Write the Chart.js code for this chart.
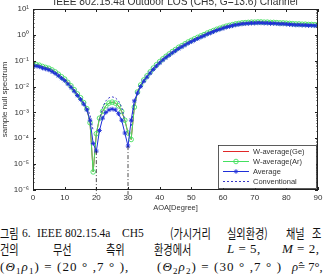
<!DOCTYPE html>
<html>
<head>
<meta charset="utf-8">
<script src="https://cdn.jsdelivr.net/npm/chart.js@4.4.1/dist/chart.umd.min.js"></script>
<style>
  body { margin: 0; background: #fff; width: 328px; height: 280px; overflow: hidden; position: relative; }
  #chartBox { position: absolute; left: 0; top: 0; width: 328px; height: 212px; }
  .cap { position: absolute; font-family: "Liberation Serif", "DejaVu Serif", serif; font-size: 11.5px; line-height: 16px; color: #111; white-space: nowrap; }
  .ko { font-family: "Noto Sans CJK KR", sans-serif; font-size: 13px; transform: scaleX(0.78); transform-origin: 0 0; }
  .math { font-size: 13px; letter-spacing: 0.5px; }
  .wide { letter-spacing: 1.1px; }
  .tight { font-size: 12.5px; letter-spacing: 0; }
  .cap i { font-style: italic; }
  .cap sub { font-size: 9px; vertical-align: -3px; line-height: 0; }
</style>
</head>
<body>
<div id="chartBox"><canvas id="nullChart" width="328" height="212"></canvas></div>

<!-- caption -->
<div class="cap ko" style="left:0;top:225px">그림</div>
<div class="cap" style="left:22px;top:225px">6.</div>
<div class="cap" style="left:37px;top:225px">IEEE</div>
<div class="cap" style="left:65px;top:225px">802.15.4a</div>
<div class="cap" style="left:122px;top:225px">CH5</div>
<div class="cap ko" style="left:170px;top:225px">(가시거리</div>
<div class="cap ko" style="left:227px;top:225px">실외환경)</div>
<div class="cap ko" style="left:286px;top:225px">채널</div>
<div class="cap ko" style="left:312px;top:225px">조</div>

<div class="cap ko" style="left:0;top:241px">건의</div>
<div class="cap ko" style="left:53px;top:241px">무선</div>
<div class="cap ko" style="left:106px;top:241px">측위</div>
<div class="cap ko" style="left:154px;top:241px">환경에서</div>
<div class="cap math" style="left:227px;top:241px"><i>L</i> = 5,</div>
<div class="cap math" style="left:282px;top:241px"><i>M</i> = 2,</div>

<div class="cap math wide" style="left:0;top:259px">(<i>Θ</i><sub>1</sub><i>ρ</i><sub>1</sub>) = (20 ° ,7 ° ),</div>
<div class="cap math wide" style="left:157px;top:259px">(<i>Θ</i><sub>2</sub><i>ρ</i><sub>2</sub>) = (30 ° ,7 ° )</div>
<div class="cap math tight" style="left:292px;top:259px"><i>ρ̂</i>= 7°,</div>

<script>
// AOA grid, one sample per degree
const aoa = Array.from({ length: 91 }, (_, i) => i);

const seriesNames = ['W-average(Ge)', 'W-average(Ar)', 'Average', 'Conventional'];

// sample null spectrum values (log scale)
const wAvgGe = [
  0.072, 0.071, 0.067, 0.060, 0.055, 0.051, 0.044, 0.037, 0.030, 0.024,
  0.0195, 0.0145, 0.0107, 0.0076, 0.0052, 0.0037, 0.0024, 0.0014, 4e-4, 5e-6,
  1.5e-4, 6e-4, 1.1e-3, 1.8e-3, 2.3e-3, 2.5e-3, 2.3e-3, 1.8e-3, 1.1e-3, 5e-4,
  1.6e-4, 9e-5, 1.6e-3, 6.2e-3, 0.0115, 0.018, 0.026, 0.037, 0.052, 0.070,
  0.092, 0.118, 0.148, 0.182, 0.225, 0.27, 0.33, 0.38, 0.45, 0.53,
  0.61, 0.70, 0.80, 0.91, 1.02, 1.17, 1.31, 1.47, 1.64, 1.80,
  1.98, 2.16, 2.32, 2.48, 2.65, 2.77, 2.90, 2.97, 3.03, 3.10,
  3.10, 3.16, 3.16, 3.10, 3.10, 3.03, 3.03, 2.97, 2.90, 2.90,
  2.83, 2.77, 2.70, 2.65, 2.65, 2.58, 2.58, 2.52, 2.52, 2.47, 2.47
];
const wAvgAr = [
  0.072, 0.071, 0.067, 0.060, 0.055, 0.051, 0.044, 0.037, 0.030, 0.024,
  0.0195, 0.0145, 0.0107, 0.0076, 0.0052, 0.0037, 0.0024, 0.0014, 4e-4, 5e-6,
  1.5e-4, 6e-4, 1.1e-3, 1.8e-3, 2.3e-3, 2.5e-3, 2.3e-3, 1.8e-3, 1.1e-3, 5e-4,
  1.6e-4, 9e-5, 1.6e-3, 6.2e-3, 0.0115, 0.018, 0.026, 0.037, 0.052, 0.070,
  0.092, 0.118, 0.148, 0.182, 0.225, 0.27, 0.33, 0.38, 0.45, 0.53,
  0.61, 0.70, 0.80, 0.91, 1.02, 1.17, 1.31, 1.47, 1.64, 1.80,
  1.98, 2.16, 2.32, 2.48, 2.65, 2.77, 2.90, 2.97, 3.03, 3.10,
  3.10, 3.16, 3.16, 3.10, 3.10, 3.03, 3.03, 2.97, 2.90, 2.90,
  2.83, 2.77, 2.70, 2.65, 2.65, 2.58, 2.58, 2.52, 2.52, 2.47, 2.47
];
const average = [
  0.063, 0.062, 0.058, 0.052, 0.048, 0.044, 0.038, 0.032, 0.026, 0.021,
  0.017, 0.0126, 0.0093, 0.0066, 0.0045, 0.0032, 0.0021, 0.00126, 5e-4, 6.3e-5,
  3.2e-5, 2.0e-4, 6.0e-4, 1.0e-3, 1.26e-3, 1.35e-3, 1.26e-3, 8.9e-4, 5.0e-4, 1.6e-4,
  5.0e-5, 5.0e-4, 2.8e-3, 5.6e-3, 0.010, 0.016, 0.023, 0.033, 0.046, 0.062,
  0.081, 0.105, 0.132, 0.162, 0.20, 0.24, 0.29, 0.34, 0.40, 0.47,
  0.54, 0.62, 0.71, 0.81, 0.91, 1.05, 1.17, 1.32, 1.48, 1.62,
  1.78, 1.95, 2.09, 2.24, 2.40, 2.51, 2.63, 2.69, 2.75, 2.82,
  2.82, 2.88, 2.88, 2.82, 2.82, 2.75, 2.75, 2.69, 2.63, 2.63,
  2.57, 2.51, 2.45, 2.40, 2.40, 2.34, 2.34, 2.29, 2.29, 2.24, 2.24
];
// null: below the bottom of the axis (deep nulls at the source angles)
const conventional = [
  0.069, 0.068, 0.064, 0.057, 0.053, 0.048, 0.042, 0.035, 0.029, 0.023,
  0.0187, 0.0139, 0.0102, 0.0073, 0.005, 0.0035, 0.0024, 0.0016, 8e-4, 2e-4,
  null, 5e-4, 1.6e-3, 2.8e-3, 3.7e-3, 4e-3, 3.7e-3, 2.8e-3, 1.6e-3, 5e-4,
  null, 3e-4, 2.2e-3, 6e-3, 0.011, 0.0175, 0.025, 0.036, 0.05, 0.068,
  0.089, 0.115, 0.145, 0.178, 0.22, 0.26, 0.32, 0.37, 0.44, 0.52,
  0.59, 0.68, 0.78, 0.89, 1.0, 1.15, 1.29, 1.45, 1.63, 1.78,
  1.96, 2.14, 2.3, 2.46, 2.64, 2.76, 2.89, 2.96, 3.02, 3.1,
  3.1, 3.17, 3.17, 3.1, 3.1, 3.02, 3.02, 2.96, 2.89, 2.89,
  2.83, 2.76, 2.7, 2.64, 2.64, 2.57, 2.57, 2.52, 2.52, 2.46, 2.46
];

// true source directions, marked with drop lines
const sourceAoa = [20, 30];

const xTicks = [0, 10, 20, 30, 40, 50, 60, 70, 80, 90];
const yTicks = [1e-6, 1e-5, 1e-4, 1e-3, 1e-2, 1e-1, 1, 10];

const FONT = 'Liberation Sans, Arial, sans-serif';
const SUP = { '0': '⁰', '1': '¹', '2': '²', '3': '³', '4': '⁴', '5': '⁵', '6': '⁶', '7': '⁷', '8': '⁸', '9': '⁹', '-': '⁻' };

function pts(arr) {
    return aoa.map((a, i) => ({ x: a, y: arr[i] }));
}

const styles = [
    { color: '#e02828', dash: [], point: false },
    { color: '#44e060', dash: [], point: 'circle' },
    { color: '#1f2fd8', dash: [], point: 'star' },
    { color: '#3838c8', dash: [2, 2], point: false }
];
const seriesData = [wAvgGe, wAvgAr, average, conventional];
const drawOrder = [4, 3, 1, 2];

const datasets = seriesData.map((arr, i) => ({
    label: seriesNames[i],
    data: pts(arr),
    borderColor: styles[i].color,
    backgroundColor: 'rgba(0,0,0,0)',
    borderWidth: 1,
    borderDash: styles[i].dash,
    pointStyle: styles[i].point || 'circle',
    pointRadius: styles[i].point ? 2.3 : 0,
    pointBorderWidth: 0.9,
    pointBorderColor: styles[i].color,
    pointBackgroundColor: 'rgba(0,0,0,0)',
    spanGaps: false,
    order: drawOrder[i]
}));

// dash-dot drop lines at the source angles
sourceAoa.forEach(a => {
    datasets.push({
        label: 'src' + a,
        data: [{ x: a, y: average[a] }, { x: a, y: 5.6e-7 }],
        borderColor: '#222',
        borderWidth: 0.8,
        borderDash: [4, 2, 1, 2],
        pointRadius: 0,
        clip: false,
        order: 0
    });
});

// title, frame, inward ticks, legend
const framePlugin = {
    id: 'framePlugin',
    afterDraw(chart) {
        const { ctx, chartArea: a, scales } = chart;
        ctx.save();
        ctx.fillStyle = '#333';
        ctx.font = '10.2px ' + FONT;
        ctx.textAlign = 'center';
        ctx.textBaseline = 'middle';
        ctx.fillText('IEEE 802.15.4a Outdoor LOS (CH5, G=13.6) Channel', (a.left + a.right) / 2, 2.5);

        ctx.strokeStyle = '#222';
        ctx.lineWidth = 1;
        ctx.strokeRect(a.left + 0.5, a.top + 0.5, a.right - a.left - 1, a.bottom - a.top - 1);

        ctx.beginPath();
        xTicks.forEach(v => {
            const px = Math.round(scales.x.getPixelForValue(v)) + 0.5;
            ctx.moveTo(px, a.bottom); ctx.lineTo(px, a.bottom - 3);
            ctx.moveTo(px, a.top); ctx.lineTo(px, a.top + 3);
        });
        yTicks.forEach((v, k) => {
            const py = Math.round(scales.y.getPixelForValue(v)) + 0.5;
            ctx.moveTo(a.left, py); ctx.lineTo(a.left + 3, py);
            ctx.moveTo(a.right, py); ctx.lineTo(a.right - 3, py);
            if (k < yTicks.length - 1) {
                for (let m = 2; m <= 9; m++) {
                    const my = Math.round(scales.y.getPixelForValue(v * m)) + 0.5;
                    ctx.moveTo(a.left, my); ctx.lineTo(a.left + 1.5, my);
                    ctx.moveTo(a.right, my); ctx.lineTo(a.right - 1.5, my);
                }
            }
        });
        ctx.stroke();

        // legend box
        const bx = 218, by = 145, bw = a.right - 2 - bx, bh = 43;
        ctx.fillStyle = '#fff';
        ctx.fillRect(bx, by, bw, bh);
        ctx.strokeStyle = '#333';
        ctx.lineWidth = 0.8;
        ctx.strokeRect(bx + 0.5, by + 0.5, bw, bh);
        ctx.font = '7.5px ' + FONT;
        ctx.textAlign = 'left';
        ctx.textBaseline = 'middle';
        seriesNames.forEach((name, i) => {
            const ds = chart.data.datasets[i];
            const y = by + 6.5 + i * 10;
            ctx.strokeStyle = ds.borderColor;
            ctx.lineWidth = 1;
            ctx.setLineDash(ds.borderDash);
            ctx.beginPath();
            ctx.moveTo(bx + 5, y); ctx.lineTo(bx + 31, y);
            ctx.stroke();
            ctx.setLineDash([]);
            if (ds.pointRadius > 0) {
                ctx.fillStyle = 'rgba(0,0,0,0)';
                ctx.lineWidth = 0.9;
                Chart.helpers.drawPoint(ctx, { pointStyle: ds.pointStyle, radius: 2.3, borderWidth: 0.9 }, bx + 18, y);
            }
            ctx.fillStyle = '#333';
            ctx.fillText(name, bx + 35, y + 0.5);
        });
        ctx.restore();
    }
};

const ctx = document.getElementById('nullChart').getContext('2d');
const nullChart = new Chart(ctx, {
    type: 'line',
    data: { datasets: datasets },
    options: {
        responsive: false,
        animation: false,
        devicePixelRatio: 1,
        layout: { padding: { top: 9, right: 10, left: 0, bottom: 0 } },
        plugins: {
            legend: { display: false },
            tooltip: { enabled: false },
            title: { display: false }
        },
        scales: {
            x: {
                type: 'linear',
                min: 0,
                max: 90,
                afterBuildTicks: s => { s.ticks = xTicks.map(v => ({ value: v })); },
                afterFit: s => { s.height = 22; },
                grid: { display: false, drawTicks: false },
                border: { display: false },
                ticks: { color: '#333', font: { family: FONT, size: 8 }, padding: 3, maxRotation: 0 },
                title: { display: true, text: 'AOA[Degree]', color: '#333', font: { family: FONT, size: 7.5 }, padding: 0 }
            },
            y: {
                type: 'logarithmic',
                min: 1e-6,
                max: 10,
                afterBuildTicks: s => { s.ticks = yTicks.map(v => ({ value: v })); },
                afterFit: s => { s.width = 33; },
                grid: { display: false, drawTicks: false },
                border: { display: false },
                ticks: {
                    color: '#333',
                    font: { family: FONT, size: 8 },
                    padding: 4,
                    callback: v => '10' + String(Math.round(Math.log10(v))).split('').map(c => SUP[c]).join('')
                },
                title: { display: true, text: 'sample null spectrum', color: '#333', font: { family: FONT, size: 8 }, padding: 0 }
            }
        }
    },
    plugins: [framePlugin]
});
</script>
</body>
</html>
